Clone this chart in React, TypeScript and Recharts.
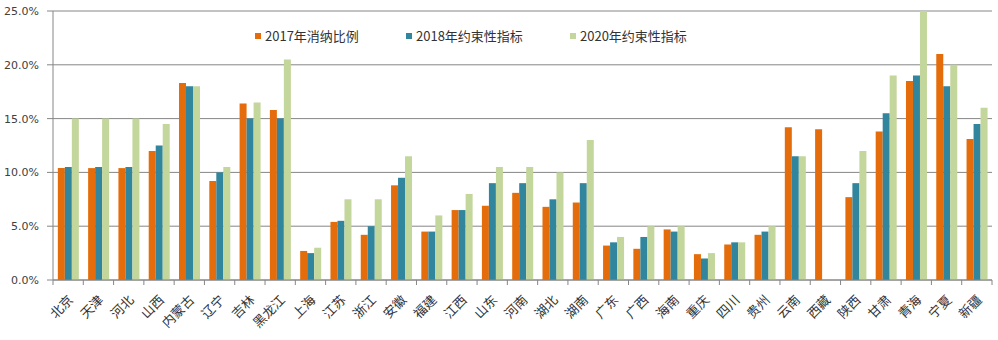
import React from 'react';
import { BarChart, Bar, XAxis, YAxis, CartesianGrid, Legend } from 'recharts';

const provinces = ['北京','天津','河北','山西','内蒙古','辽宁','吉林','黑龙江','上海','江苏','浙江','安徽','福建','江西','山东','河南','湖北','湖南','广东','广西','海南','重庆','四川','贵州','云南','西藏','陕西','甘肃','青海','宁夏','新疆'];
const ratio2017 = [10.4,10.4,10.4,12.0,18.3,9.2,16.4,15.8,2.7,5.4,4.2,8.8,4.5,6.5,6.9,8.1,6.8,7.2,3.2,2.9,4.7,2.4,3.3,4.2,14.2,14.0,7.7,13.8,18.5,21.0,13.1];
const target2018 = [10.5,10.5,10.5,12.5,18.0,10.0,15.0,15.0,2.5,5.5,5.0,9.5,4.5,6.5,9.0,9.0,7.5,9.0,3.5,4.0,4.5,2.0,3.5,4.5,11.5,null,9.0,15.5,19.0,18.0,14.5];
const target2020 = [15.0,15.0,15.0,14.5,18.0,10.5,16.5,20.5,3.0,7.5,7.5,11.5,6.0,8.0,10.5,10.5,10.0,13.0,4.0,5.0,5.0,2.5,3.5,5.0,11.5,null,12.0,19.0,25.0,20.0,16.0];
const seriesNames = ['2017年消纳比例','2018年约束性指标','2020年约束性指标'];
const yTicks = [0,5,10,15,20,25];

const COLORS = ['#E46C0A','#31859C','#C3D69B'];
const GRID = '#868686';

const data = provinces.map((p, i) => ({ name: p, a: ratio2017[i], b: target2018[i], c: target2020[i] }));

const W = 998, H = 340;
const M = { top: 11, right: 6, left: 0, bottom: 5 };
const YW = 53;
const PLOT_W = W - M.left - M.right - YW;
const BW = PLOT_W / provinces.length;

const XTick = (props: any) => {
  const { x, y, payload, index } = props;
  const tx = x + 2, ty = y + 17;
  return (
    <g>
      <line x1={x - BW / 2} x2={x - BW / 2} y1={y} y2={y + 5} stroke={GRID} strokeWidth={1} />
      {index === provinces.length - 1 && (
        <line x1={x + BW / 2} x2={x + BW / 2} y1={y} y2={y + 5} stroke={GRID} strokeWidth={1} />
      )}
      <text x={tx} y={ty} textAnchor="end" fontSize={13} fill="#333" fontFamily="'Noto Sans CJK SC', sans-serif"
        transform={`rotate(-45, ${tx}, ${ty})`} dominantBaseline="central">{payload.value}</text>
    </g>
  );
};

const legendPos = [255, 406, 570];
const LegendContent = () => (
  <div style={{ position: 'relative', width: 0, height: 0 }}>
    {seriesNames.map((n, i) => (
      <div key={n} style={{ position: 'absolute', left: legendPos[i], top: 26, display: 'flex', alignItems: 'center', whiteSpace: 'nowrap',
        fontFamily: "'Noto Sans CJK SC', sans-serif", fontSize: 13, color: '#333' }}>
        <span style={{ display: 'inline-block', width: 6, height: 6, background: COLORS[i], marginRight: 4 }} />
        <span>{n}</span>
      </div>
    ))}
  </div>
);

export default function App() {
  return (
    <div style={{ position: 'absolute', left: 0, top: 0, width: W, height: H, background: '#fff' }}>
      <BarChart width={W} height={H} data={data} margin={M} barCategoryGap="16%" barGap={0}>
        <CartesianGrid vertical={false} stroke={GRID} strokeDasharray="" />
        <XAxis dataKey="name" interval={0} height={55} tickLine={false} tickSize={0} tickMargin={0}
          axisLine={{ stroke: GRID }} tick={<XTick />} />
        <YAxis width={YW} domain={[0, 25]} ticks={yTicks} tickSize={6} tickMargin={8} tickLine={{ stroke: GRID }}
          axisLine={{ stroke: GRID }} tickFormatter={(v: number) => v.toFixed(1) + '%'}
          tick={{ fontSize: 11, fill: '#404040', fontFamily: "'DejaVu Sans', sans-serif" }} />
        <Legend content={<LegendContent />} wrapperStyle={{ position: 'absolute', top: 0, left: 0, width: 0, height: 0 }} />
        <Bar dataKey="a" name={seriesNames[0]} fill={COLORS[0]} isAnimationActive={false} />
        <Bar dataKey="b" name={seriesNames[1]} fill={COLORS[1]} isAnimationActive={false} />
        <Bar dataKey="c" name={seriesNames[2]} fill={COLORS[2]} isAnimationActive={false} />
      </BarChart>
    </div>
  );
}
